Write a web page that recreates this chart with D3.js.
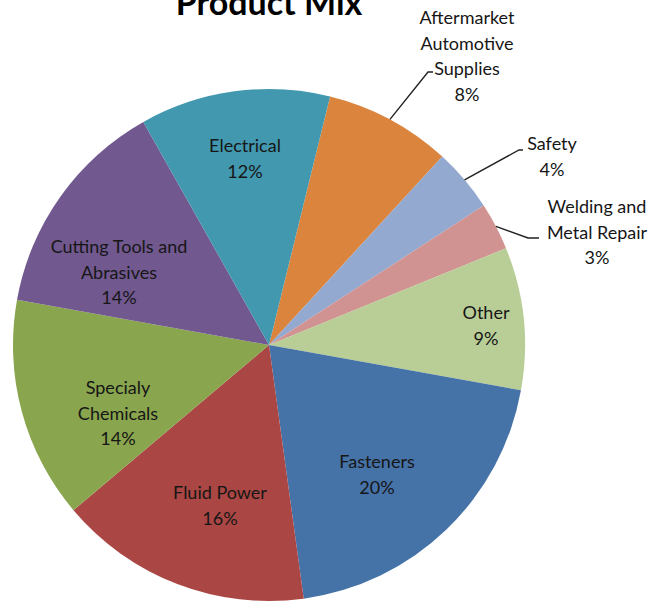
<!DOCTYPE html>
<html>
<head>
<meta charset="utf-8">
<script src="https://cdn.jsdelivr.net/npm/d3@7"></script>
<style>
  html, body { margin: 0; padding: 0; background: #fff; }
  svg { display: block; }
</style>
</head>
<body>
<svg id="chart" width="671" height="603"></svg>
<script>
// Product mix shares, clockwise from the Aftermarket slice
const categories = [
  "Aftermarket Automotive Supplies", "Safety", "Welding and Metal Repair", "Other",
  "Fasteners", "Fluid Power", "Specialy Chemicals", "Cutting Tools and Abrasives", "Electrical"
];
const shares = [8, 4, 3, 9, 20, 16, 14, 14, 12];
const colors = ["#DB843D", "#93A9CF", "#D19392", "#B9CD96", "#4572A7", "#AA4643", "#89A54E", "#71588F", "#4198AF"];
// label text lines per slice
const labelLines = [
  ["Aftermarket", "Automotive", "Supplies"], ["Safety"], ["Welding and", "Metal Repair"], ["Other"],
  ["Fasteners"], ["Fluid Power"], ["Specialy", "Chemicals"], ["Cutting Tools and", "Abrasives"], ["Electrical"]
];

const svg = d3.select("#chart");
const cx = 269, cy = 345, R = 256;
const startDeg = 13.8;
const toRad = d => d * Math.PI / 180;

const pie = d3.pie().sort(null).value(d => d)
  .startAngle(toRad(startDeg)).endAngle(toRad(startDeg + 360));
const arcs = pie(shares);
const arc = d3.arc().innerRadius(0).outerRadius(R);

const g = svg.append("g").attr("transform", `translate(${cx},${cy})`);
g.selectAll("path").data(arcs).join("path")
  .attr("d", arc)
  .attr("fill", (d, i) => colors[i]);

svg.append("text")
  .attr("x", 269).attr("y", 15)
  .attr("text-anchor", "middle")
  .attr("font-family", "Lato, 'Open Sans', sans-serif")
  .attr("font-weight", "bold")
  .attr("font-size", 34)
  .attr("fill", "#000")
  .text("Product Mix");

// label placement: [x, first baseline]
const labelPos = [
  [467, 24], [552, 150], [597, 213], [486, 319],
  [377, 468], [220, 499], [118, 394], [119, 253], [245, 152]
];
const lineH = 25.5;

// leader lines for the outside labels: from slice edge to label
const leaderEnds = {
  0: [[428, 72], [433, 72]],
  1: [[519, 150], [523, 150]],
  2: [[528, 238], [539, 238]]
};
Object.keys(leaderEnds).forEach(k => {
  const a = arcs[+k];
  const mid = (a.startAngle + a.endAngle) / 2;
  const p0 = [cx + R * Math.sin(mid), cy - R * Math.cos(mid)];
  const pts = [p0].concat(leaderEnds[k]);
  svg.append("path")
    .attr("d", d3.line()(pts))
    .attr("fill", "none")
    .attr("stroke", "#222")
    .attr("stroke-width", 1.4);
});

labelPos.forEach((p, i) => {
  const lines = labelLines[i].concat([shares[i] + "%"]);
  const t = svg.append("text")
    .attr("text-anchor", "middle")
    .attr("font-family", "Lato, 'Open Sans', sans-serif")
    .attr("font-size", 18)
    .attr("fill", "#161616");
  lines.forEach((s, j) => {
    t.append("tspan").attr("x", p[0]).attr("y", p[1] + j * lineH).text(s);
  });
});
</script>
</body>
</html>
